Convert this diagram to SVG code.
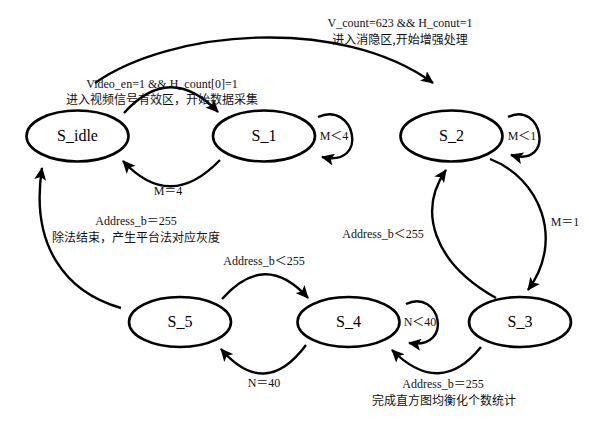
<svg xmlns="http://www.w3.org/2000/svg" width="589" height="424" viewBox="0 0 589 424">
<style>
.node{fill:#fff;stroke:#000;stroke-width:2.6}
.nl{font-family:"Liberation Serif","Times New Roman",serif;font-size:16px;fill:#000;text-anchor:middle}
.edge{fill:none;stroke:#000;stroke-width:2.4;marker-end:url(#ah)}
.lb{font-family:"Liberation Serif","Noto Sans CJK SC",serif;font-size:12px;fill:#111;text-anchor:middle}
.cn{font-family:"Noto Sans CJK SC","Liberation Serif",sans-serif;font-size:12px;fill:#111;text-anchor:middle}
</style>
<defs>
<marker id="ah" markerUnits="userSpaceOnUse" markerWidth="14" markerHeight="12" refX="12" refY="6" orient="auto">
<path d="M0,0 L13,6 L0,12 L3,6 z" fill="#000"/>
</marker>
</defs>
<rect width="589" height="424" fill="#fff"/>
<g id="connectors">
<path class="edge" d="M124,113 Q170,62 218,112"/>
<path class="edge" d="M220,160 Q170,212 123,161"/>
<path class="edge" d="M318,117 C355,100 370,168 322,157"/>
<path class="edge" d="M508,117 C542,100 556,168 511,155"/>
<path class="edge" d="M95,83 C170,30 340,15 433,83"/>
<path class="edge" d="M496,298 C432,262 418,210 446,170"/>
<path class="edge" d="M490,159 C540,178 565,240 528,290"/>
<path class="edge" d="M222,299 Q265,250 308,298"/>
<path class="edge" d="M306,345 Q265,400 221,349"/>
<path class="edge" d="M406,304 C440,288 455,350 409,343"/>
<path class="edge" d="M481,347 Q440,398 392,350"/>
<path class="edge" d="M121,308 C65,292 30,245 42,168"/>
</g>
<g id="labels">
<text class="lb" x="162" y="88">Video_en=1 &amp;&amp; H_count[0]=1</text>
<text class="cn" x="162" y="104">进入视频信号有效区，开始数据采集</text>
<text class="lb" x="168" y="195">M＝4</text>
<text class="lb" x="334" y="140">M＜4</text>
<text class="lb" x="522" y="140">M＜1</text>
<text class="lb" x="400" y="27">V_count=623 &amp;&amp; H_conut=1</text>
<text class="cn" x="400" y="44">进入消隐区,开始增强处理</text>
<text class="lb" x="565" y="226">M＝1</text>
<text class="lb" x="383" y="238">Address_b＜255</text>
<text class="lb" x="136" y="225">Address_b＝255</text>
<text class="cn" x="136" y="242">除法结束，产生平台法对应灰度</text>
<text class="lb" x="264" y="265">Address_b＜255</text>
<text class="lb" x="264" y="387">N＝40</text>
<text class="lb" x="420" y="326">N＜40</text>
<text class="lb" x="443" y="388">Address_b＝255</text>
<text class="cn" x="444" y="405">完成直方图均衡化个数统计</text>
</g>
<g id="S_idle"><ellipse class="node" cx="77.5" cy="136" rx="51" ry="25.5"/><text class="nl" x="77.5" y="141">S_idle</text></g>
<g id="S_1"><ellipse class="node" cx="264" cy="136" rx="51" ry="25.5"/><text class="nl" x="264" y="141">S_1</text></g>
<g id="S_2"><ellipse class="node" cx="451.5" cy="136" rx="51" ry="25.5"/><text class="nl" x="451.5" y="141">S_2</text></g>
<g id="S_5"><ellipse class="node" cx="180" cy="322" rx="51" ry="25"/><text class="nl" x="180" y="327">S_5</text></g>
<g id="S_4"><ellipse class="node" cx="348.5" cy="322" rx="51" ry="25"/><text class="nl" x="348.5" y="327">S_4</text></g>
<g id="S_3"><ellipse class="node" cx="520" cy="322" rx="51" ry="25"/><text class="nl" x="520" y="327">S_3</text></g>
</svg>
